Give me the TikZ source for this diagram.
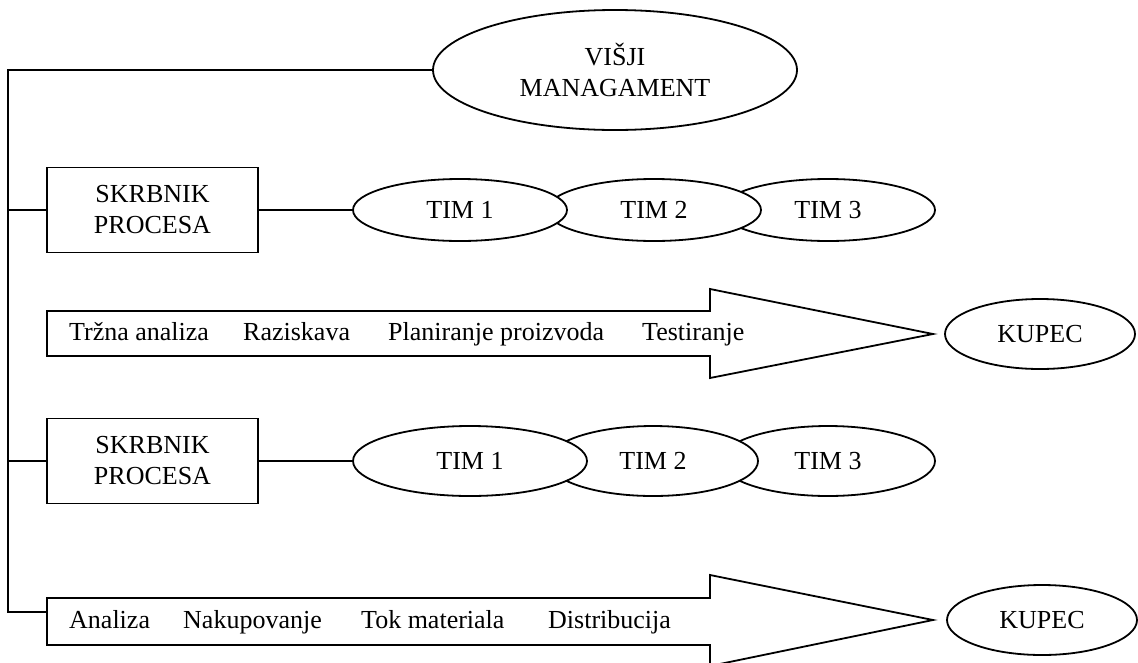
\documentclass[tikz,border=0pt]{standalone}
\usepackage{fontspec}
\setmainfont{Liberation Serif}
\usetikzlibrary{shapes.geometric}
\begin{document}
\begin{tikzpicture}[x=1pt,y=-1pt,
  every node/.style={font=\fontsize{26}{31}\selectfont},
  line/.style={line width=1.8pt},
  oval/.style={ellipse, draw, line width=1.8pt, fill=white, inner sep=0pt},
  team/.style={oval, minimum width=214, minimum height=62},
  owner/.style={rectangle, draw, line width=1.8pt, fill=white, minimum width=211,
                minimum height=85, align=center, inner sep=0pt},
  flow/.style={draw, line width=1.8pt, line join=miter, fill=white},
  stagetext/.style={anchor=base west, inner sep=0pt}
]
\useasboundingbox (0,0) rectangle (1138,662);
\fill[white] (0,0) rectangle (1138,662);

% process arrows
\draw[flow] (47,311) -- (710,311) -- (710,289) -- (933,334) -- (710,378)
            -- (710,356) -- (47,356) -- cycle;
\draw[flow] (47,598) -- (710,598) -- (710,575) -- (933,620) -- (710,666)
            -- (710,645) -- (47,645) -- cycle;
\coordinate (flow2in) at (47,612);

% stages along the arrows
\node[stagetext] (s11) at (69,340) {Tržna analiza};
\node[stagetext] (s12) at (243,340) {Raziskava};
\node[stagetext] (s13) at (388,340) {Planiranje proizvoda};
\node[stagetext] (s14) at (642,340) {Testiranje};
\node[stagetext] (s21) at (69,628) {Analiza};
\node[stagetext] (s22) at (183,628) {Nakupovanje};
\node[stagetext] (s23) at (361,628) {Tok materiala};
\node[stagetext] (s24) at (548,628) {Distribucija};

% management and process owners
\node[oval, minimum width=364, minimum height=120, align=center] (mgmt) at (615,70) {VIŠJI\\MANAGAMENT};
\node[owner] (own1) at (152.5,210) {SKRBNIK\\PROCESA};
\node[owner] (own2) at (152.5,461) {SKRBNIK\\PROCESA};

% teams (drawn right to left so each overlaps the next)
\node[team] (t13) at (828,210) {TIM 3};
\node[team] (t12) at (654,210) {TIM 2};
\node[team] (t11) at (460,210) {TIM 1};
\node[team, minimum height=70] (t23) at (828,461) {TIM 3};
\node[team, minimum width=210, minimum height=70] (t22) at (653,461) {TIM 2};
\node[team, minimum width=234, minimum height=70] (t21) at (470,461) {TIM 1};

% customers
\node[oval, minimum width=190, minimum height=70] (k1) at (1040,334) {KUPEC};
\node[oval, minimum width=190, minimum height=70] (k2) at (1042,620) {KUPEC};

% connectors
\coordinate (spinetop) at (8,70);
\coordinate (spinebot) at (8,612);
\draw[line] (mgmt.west) -- (spinetop) -- (spinebot) -- (flow2in);
\draw[line] (own1.west) -- (own1.west -| spinetop);
\draw[line] (own2.west) -- (own2.west -| spinetop);
\draw[line] (own1.east) -- (t11.west);
\draw[line] (own2.east) -- (t21.west);
\end{tikzpicture}
\end{document}
